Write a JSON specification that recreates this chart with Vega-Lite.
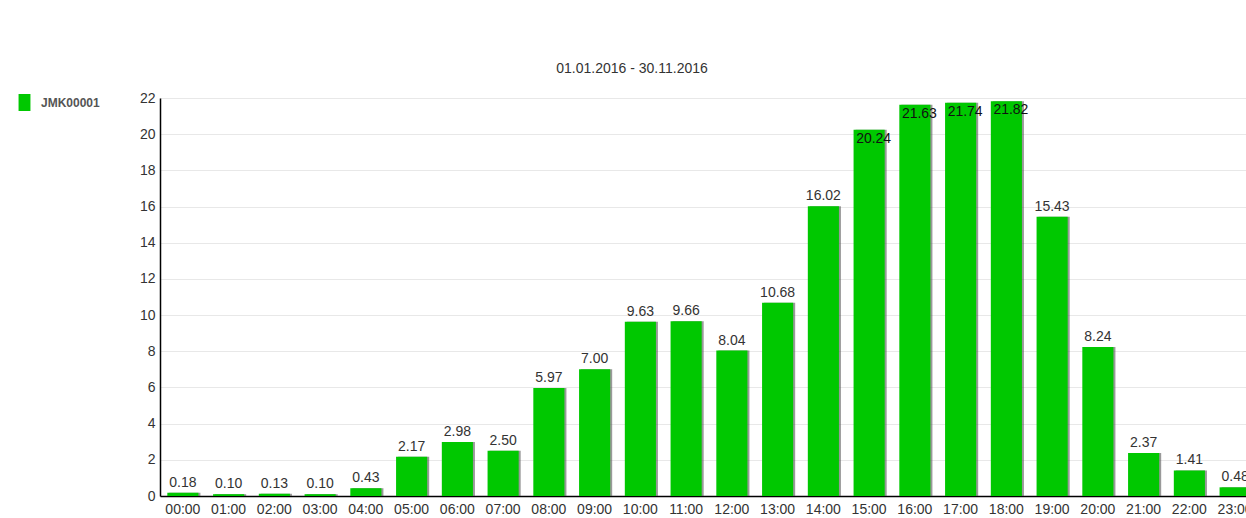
{
  "$schema": "https://vega.github.io/schema/vega-lite/v6.json",
  "width": 1098,
  "height": 398,
  "autosize": {"type": "none"},
  "padding": {"left": 160, "top": 98, "right": 0, "bottom": 22},
  "background": "white",
  "config": {
    "view": {"stroke": null},
    "font": "Liberation Sans"
  },
  "title": {
    "text": "01.01.2016 - 30.11.2016",
    "anchor": "middle",
    "frame": "group",
    "dx": -77,
    "offset": 15,
    "fontSize": 14,
    "fontWeight": "normal",
    "color": "#333333",
    "font": "Liberation Sans"
  },
  "data": {
    "values": [
      {"hour": "00:00", "value": 0.18, "station": "JMK00001"},
      {"hour": "01:00", "value": 0.10, "station": "JMK00001"},
      {"hour": "02:00", "value": 0.13, "station": "JMK00001"},
      {"hour": "03:00", "value": 0.10, "station": "JMK00001"},
      {"hour": "04:00", "value": 0.43, "station": "JMK00001"},
      {"hour": "05:00", "value": 2.17, "station": "JMK00001"},
      {"hour": "06:00", "value": 2.98, "station": "JMK00001"},
      {"hour": "07:00", "value": 2.50, "station": "JMK00001"},
      {"hour": "08:00", "value": 5.97, "station": "JMK00001"},
      {"hour": "09:00", "value": 7.00, "station": "JMK00001"},
      {"hour": "10:00", "value": 9.63, "station": "JMK00001"},
      {"hour": "11:00", "value": 9.66, "station": "JMK00001"},
      {"hour": "12:00", "value": 8.04, "station": "JMK00001"},
      {"hour": "13:00", "value": 10.68, "station": "JMK00001"},
      {"hour": "14:00", "value": 16.02, "station": "JMK00001"},
      {"hour": "15:00", "value": 20.24, "station": "JMK00001"},
      {"hour": "16:00", "value": 21.63, "station": "JMK00001"},
      {"hour": "17:00", "value": 21.74, "station": "JMK00001"},
      {"hour": "18:00", "value": 21.82, "station": "JMK00001"},
      {"hour": "19:00", "value": 15.43, "station": "JMK00001"},
      {"hour": "20:00", "value": 8.24, "station": "JMK00001"},
      {"hour": "21:00", "value": 2.37, "station": "JMK00001"},
      {"hour": "22:00", "value": 1.41, "station": "JMK00001"},
      {"hour": "23:00", "value": 0.48, "station": "JMK00001"}
    ]
  },
  "encoding": {
    "x": {
      "field": "hour",
      "type": "ordinal",
      "scale": {"paddingInner": 0.32, "paddingOuter": 0.16},
      "axis": {
        "title": null,
        "labelAngle": 0,
        "ticks": false,
        "domainColor": "#000000",
        "domainWidth": 1.5,
        "labelFontSize": 14,
        "labelColor": "#333333",
        "labelPadding": 6,
        "labelFont": "Liberation Sans"
      }
    },
    "y": {
      "field": "value",
      "type": "quantitative",
      "scale": {"domain": [0, 22], "nice": false},
      "axis": {
        "title": null,
        "values": [0, 2, 4, 6, 8, 10, 12, 14, 16, 18, 20, 22],
        "ticks": false,
        "domainColor": "#000000",
        "domainWidth": 1.5,
        "gridColor": "#e8e8e8",
        "labelFontSize": 14,
        "labelColor": "#333333",
        "labelPadding": 5,
        "labelFont": "Liberation Sans"
      }
    }
  },
  "layer": [
    {
      "mark": {"type": "bar", "color": "#555555", "opacity": 0.6},
      "encoding": {"xOffset": {"value": 2}, "y2": {"datum": 0}}
    },
    {
      "mark": {"type": "bar"},
      "encoding": {
        "color": {
          "field": "station",
          "type": "nominal",
          "scale": {"range": ["#00C800"]},
          "legend": {
            "title": null,
            "orient": "none",
            "legendX": -144,
            "legendY": -4,
            "symbolType": "M-0.7,-1H0.7V1H-0.7Z",
            "symbolSize": 289,
            "symbolStrokeWidth": 0,
            "symbolOpacity": 1,
            "labelFontSize": 12,
            "labelFontWeight": "bold",
            "labelColor": "#555555",
            "labelOffset": 8,
            "labelFont": "Liberation Sans"
          }
        }
      }
    },
    {
      "transform": [{"filter": "datum.value < 20"}],
      "mark": {"type": "text", "baseline": "bottom", "dy": -3, "fontSize": 14, "color": "#333333", "font": "Liberation Sans"},
      "encoding": {"text": {"field": "value", "type": "quantitative", "format": ".2f"}}
    },
    {
      "transform": [{"filter": "datum.value >= 20"}],
      "mark": {"type": "text", "baseline": "top", "align": "left", "dy": 2, "dx": -13, "fontSize": 14, "color": "#111111", "font": "Liberation Sans"},
      "encoding": {"text": {"field": "value", "type": "quantitative", "format": ".2f"}}
    }
  ]
}
